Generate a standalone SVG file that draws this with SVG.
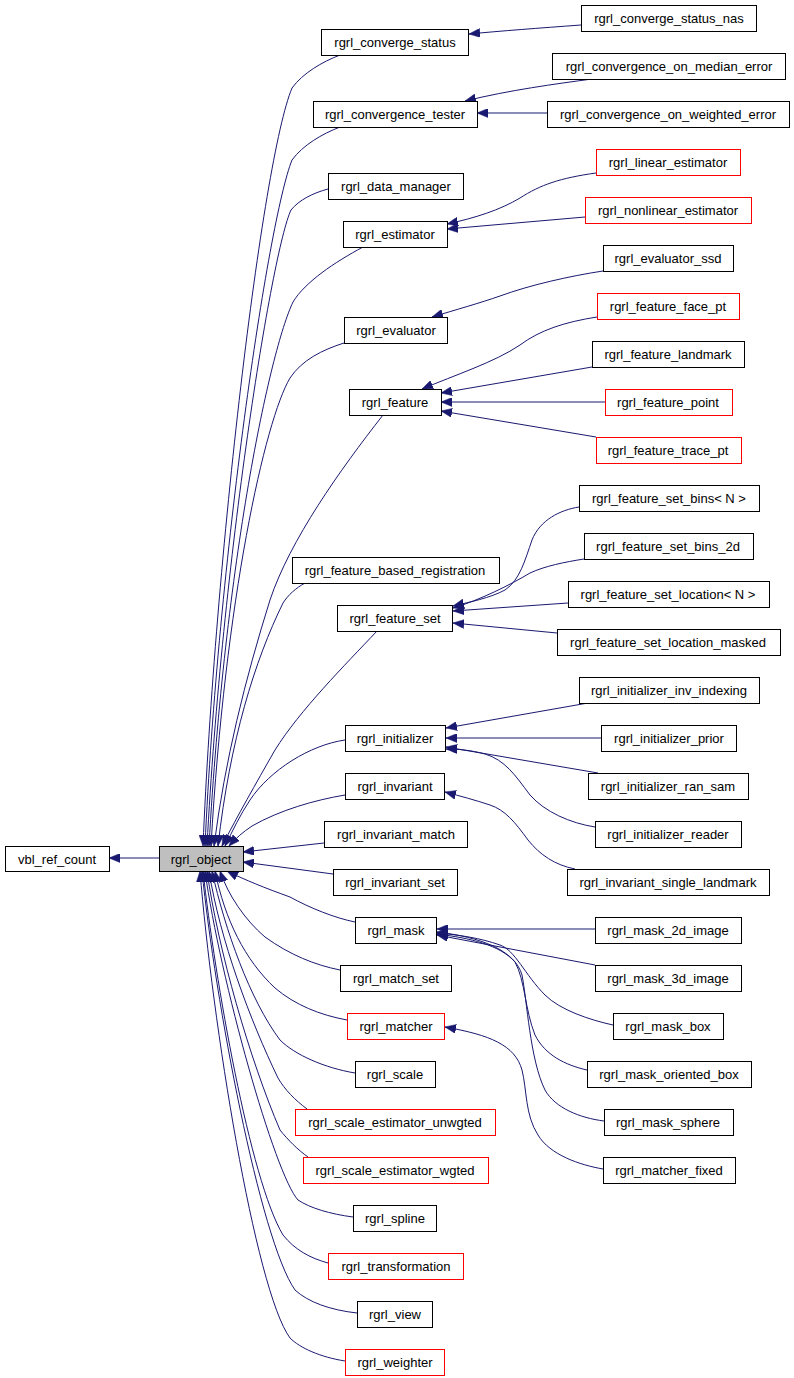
<svg xmlns="http://www.w3.org/2000/svg" width="794" height="1378" viewBox="0 0 794 1378">
<style>
.n rect{fill:#fff;stroke:#000;stroke-width:1}
.r rect{stroke:#f00}
.g rect{fill:#bfbfbf}
text{font-family:"Liberation Sans",Arial,Helvetica,sans-serif;font-size:13px;text-anchor:middle;fill:#000}
.e path{fill:none;stroke:#191970;stroke-width:1;marker-end:url(#a)}
</style>
<defs>
<marker id="a" markerUnits="userSpaceOnUse" viewBox="0 0 11 9" markerWidth="11" markerHeight="9" refX="11" refY="4.5" orient="auto">
<path d="M0,0 L11,4.5 L0,9 z" fill="#191970" stroke="#191970" stroke-width="0.5"/>
</marker>
</defs>
<rect width="794" height="1378" fill="#fff"/>
<g class="e" id="edges">
<path d="M159,858 L109,858"/>
<path d="M340,55 C322,62 303,73 292,88 C262,160 215,560 203,846"/>
<path d="M340,127 C322,134 303,145 292,160 C268,220 218,560 205,846"/>
<path d="M328,189 C313,193 299,200 291,210 C272,250 222,560 207,846"/>
<path d="M363,247 C335,262 305,282 293,302 C270,350 225,560 209,846"/>
<path d="M344,343 C322,350 302,360 290,378 C265,420 225,600 211,846"/>
<path d="M383,415 C340,470 290,540 270,600 C245,680 225,760 214,846"/>
<path d="M305,583 C296,588 288,595 283,603 C255,660 230,740 218,846"/>
<path d="M377,631 C345,665 300,710 275,750 C255,785 238,815 222,846"/>
<path d="M345,740 C310,745 270,770 250,800 C240,815 233,830 225,846"/>
<path d="M345,795 C315,800 280,810 252,826 C243,832 236,838 229,846"/>
<path d="M324,843 L243,852"/>
<path d="M333,874 L243,862"/>
<path d="M355,922 C335,918 310,908 290,897 C265,888 245,880 227,871"/>
<path d="M340,970 C315,965 290,955 265,937 C245,920 228,895 220,871"/>
<path d="M347,1020 C320,1015 295,1005 275,988 C245,960 225,920 215,871"/>
<path d="M355,1073 C325,1068 295,1055 280,1040 C250,1000 225,930 212,871"/>
<path d="M307,1109 C295,1100 285,1090 278,1078 C250,1020 220,940 209,871"/>
<path d="M308,1157 C298,1150 288,1140 280,1130 C250,1060 218,950 207,871"/>
<path d="M353,1217 C330,1214 310,1208 298,1200 C275,1175 220,980 205,871"/>
<path d="M328,1263 C310,1258 295,1250 283,1235 C250,1180 215,980 203,871"/>
<path d="M357,1313 C330,1310 308,1302 295,1290 C260,1240 215,1000 202,871"/>
<path d="M345,1361 C320,1357 300,1348 290,1338 C255,1290 212,1020 200,871"/>
<path d="M581,25 C540,28 500,31 469,34"/>
<path d="M592,79 C555,84 510,90 465,101"/>
<path d="M547,113 L477,113"/>
<path d="M596,173 C560,178 540,185 520,198 C500,210 475,218 447,224"/>
<path d="M585,217 L447,229"/>
<path d="M603,271 C570,276 530,285 500,296 C480,303 455,310 432,317"/>
<path d="M597,317 C565,322 540,330 520,345 C495,362 455,375 422,389"/>
<path d="M592,367 L441,393"/>
<path d="M605,402 L441,402"/>
<path d="M596,437 L441,411"/>
<path d="M579,507 C560,510 540,520 532,540 C525,560 520,580 505,590 C490,598 470,602 453,606"/>
<path d="M584,559 C565,562 545,566 530,573 C510,585 480,600 453,608"/>
<path d="M568,603 L453,611"/>
<path d="M557,633 L453,623"/>
<path d="M588,703 L446,728"/>
<path d="M601,738 L446,738"/>
<path d="M598,773 L446,747"/>
<path d="M595,827 C570,823 545,812 530,795 C515,775 505,760 485,754 C470,750 458,749 446,749"/>
<path d="M575,869 C555,865 540,855 528,840 C515,822 505,810 490,805 C475,800 460,796 445,792"/>
<path d="M595,929 L437,929"/>
<path d="M595,965 L437,935"/>
<path d="M613,1025 C590,1020 560,1010 545,995 C525,975 515,950 500,945 C480,938 460,935 437,933"/>
<path d="M587,1070 C565,1065 545,1055 535,1035 C525,1010 525,980 515,962 C500,945 470,938 437,934"/>
<path d="M604,1121 C580,1118 555,1108 545,1090 C530,1060 527,1000 522,975 C515,950 480,937 437,932"/>
<path d="M603,1169 C580,1165 550,1155 538,1135 C525,1115 527,1090 522,1070 C515,1045 490,1035 445,1027"/>
</g>
<g class="n" id="vbl_ref_count"><rect x="5.5" y="846.5" width="104" height="25"/><text x="57" y="864">vbl_ref_count</text></g>
<g class="n g" id="rgrl_object"><rect x="159.5" y="846.5" width="84" height="25"/><text x="201" y="864">rgrl_object</text></g>
<g class="n" id="rgrl_converge_status"><rect x="321.5" y="29.5" width="147" height="26"/><text x="395" y="47">rgrl_converge_status</text></g>
<g class="n" id="rgrl_converge_status_nas"><rect x="581.5" y="5.5" width="175" height="26"/><text x="669" y="23">rgrl_converge_status_nas</text></g>
<g class="n" id="rgrl_convergence_on_median_error"><rect x="552.5" y="53.5" width="233" height="26"/><text x="669" y="71">rgrl_convergence_on_median_error</text></g>
<g class="n" id="rgrl_convergence_tester"><rect x="313.5" y="101.5" width="164" height="26"/><text x="395" y="119">rgrl_convergence_tester</text></g>
<g class="n" id="rgrl_convergence_on_weighted_error"><rect x="547.5" y="101.5" width="242" height="26"/><text x="668" y="119">rgrl_convergence_on_weighted_error</text></g>
<g class="n" id="rgrl_data_manager"><rect x="328.5" y="173.5" width="135" height="26"/><text x="396" y="191">rgrl_data_manager</text></g>
<g class="n r" id="rgrl_linear_estimator"><rect x="596.5" y="149.5" width="144" height="26"/><text x="668" y="167">rgrl_linear_estimator</text></g>
<g class="n r" id="rgrl_nonlinear_estimator"><rect x="585.5" y="197.5" width="166" height="26"/><text x="668" y="215">rgrl_nonlinear_estimator</text></g>
<g class="n" id="rgrl_estimator"><rect x="343.5" y="221.5" width="104" height="26"/><text x="395" y="239">rgrl_estimator</text></g>
<g class="n" id="rgrl_evaluator_ssd"><rect x="603.5" y="245.5" width="130" height="26"/><text x="668" y="263">rgrl_evaluator_ssd</text></g>
<g class="n" id="rgrl_evaluator"><rect x="344.5" y="317.5" width="103" height="26"/><text x="396" y="335">rgrl_evaluator</text></g>
<g class="n r" id="rgrl_feature_face_pt"><rect x="597.5" y="293.5" width="142" height="26"/><text x="668" y="311">rgrl_feature_face_pt</text></g>
<g class="n" id="rgrl_feature_landmark"><rect x="592.5" y="341.5" width="152" height="26"/><text x="668" y="359">rgrl_feature_landmark</text></g>
<g class="n" id="rgrl_feature"><rect x="349.5" y="389.5" width="92" height="26"/><text x="395" y="407">rgrl_feature</text></g>
<g class="n r" id="rgrl_feature_point"><rect x="605.5" y="389.5" width="127" height="26"/><text x="668" y="407">rgrl_feature_point</text></g>
<g class="n r" id="rgrl_feature_trace_pt"><rect x="596.5" y="437.5" width="145" height="26"/><text x="668" y="455">rgrl_feature_trace_pt</text></g>
<g class="n" id="rgrl_feature_set_bins_N"><rect x="579.5" y="485.5" width="180" height="26"/><text x="669" y="503">rgrl_feature_set_bins&lt; N &gt;</text></g>
<g class="n" id="rgrl_feature_set_bins_2d"><rect x="584.5" y="533.5" width="169" height="26"/><text x="668" y="551">rgrl_feature_set_bins_2d</text></g>
<g class="n" id="rgrl_feature_based_registration"><rect x="292.5" y="557.5" width="207" height="26"/><text x="395" y="575">rgrl_feature_based_registration</text></g>
<g class="n" id="rgrl_feature_set_location_N"><rect x="568.5" y="581.5" width="201" height="26"/><text x="668" y="599">rgrl_feature_set_location&lt; N &gt;</text></g>
<g class="n" id="rgrl_feature_set"><rect x="337.5" y="605.5" width="115" height="26"/><text x="395" y="623">rgrl_feature_set</text></g>
<g class="n" id="rgrl_feature_set_location_masked"><rect x="557.5" y="629.5" width="223" height="26"/><text x="668" y="647">rgrl_feature_set_location_masked</text></g>
<g class="n" id="rgrl_initializer_inv_indexing"><rect x="579.5" y="677.5" width="180" height="26"/><text x="669" y="695">rgrl_initializer_inv_indexing</text></g>
<g class="n" id="rgrl_initializer"><rect x="345.5" y="725.5" width="100" height="26"/><text x="395" y="743">rgrl_initializer</text></g>
<g class="n" id="rgrl_initializer_prior"><rect x="601.5" y="725.5" width="135" height="26"/><text x="669" y="743">rgrl_initializer_prior</text></g>
<g class="n" id="rgrl_invariant"><rect x="345.5" y="773.5" width="99" height="26"/><text x="395" y="791">rgrl_invariant</text></g>
<g class="n" id="rgrl_initializer_ran_sam"><rect x="588.5" y="773.5" width="160" height="26"/><text x="668" y="791">rgrl_initializer_ran_sam</text></g>
<g class="n" id="rgrl_invariant_match"><rect x="324.5" y="821.5" width="143" height="26"/><text x="396" y="839">rgrl_invariant_match</text></g>
<g class="n" id="rgrl_initializer_reader"><rect x="595.5" y="821.5" width="146" height="26"/><text x="668" y="839">rgrl_initializer_reader</text></g>
<g class="n" id="rgrl_invariant_set"><rect x="333.5" y="869.5" width="124" height="26"/><text x="395" y="887">rgrl_invariant_set</text></g>
<g class="n" id="rgrl_invariant_single_landmark"><rect x="567.5" y="869.5" width="202" height="26"/><text x="668" y="887">rgrl_invariant_single_landmark</text></g>
<g class="n" id="rgrl_mask"><rect x="355.5" y="917.5" width="81" height="26"/><text x="396" y="935">rgrl_mask</text></g>
<g class="n" id="rgrl_mask_2d_image"><rect x="595.5" y="917.5" width="146" height="26"/><text x="668" y="935">rgrl_mask_2d_image</text></g>
<g class="n" id="rgrl_match_set"><rect x="340.5" y="965.5" width="111" height="26"/><text x="396" y="983">rgrl_match_set</text></g>
<g class="n" id="rgrl_mask_3d_image"><rect x="595.5" y="965.5" width="146" height="26"/><text x="668" y="983">rgrl_mask_3d_image</text></g>
<g class="n r" id="rgrl_matcher"><rect x="347.5" y="1013.5" width="97" height="26"/><text x="396" y="1031">rgrl_matcher</text></g>
<g class="n" id="rgrl_mask_box"><rect x="613.5" y="1013.5" width="110" height="26"/><text x="668" y="1031">rgrl_mask_box</text></g>
<g class="n" id="rgrl_scale"><rect x="355.5" y="1061.5" width="80" height="26"/><text x="395" y="1079">rgrl_scale</text></g>
<g class="n" id="rgrl_mask_oriented_box"><rect x="587.5" y="1061.5" width="164" height="26"/><text x="669" y="1079">rgrl_mask_oriented_box</text></g>
<g class="n r" id="rgrl_scale_estimator_unwgted"><rect x="295.5" y="1109.5" width="200" height="26"/><text x="395" y="1127">rgrl_scale_estimator_unwgted</text></g>
<g class="n" id="rgrl_mask_sphere"><rect x="604.5" y="1109.5" width="129" height="26"/><text x="668" y="1127">rgrl_mask_sphere</text></g>
<g class="n r" id="rgrl_scale_estimator_wgted"><rect x="303.5" y="1157.5" width="185" height="26"/><text x="395" y="1175">rgrl_scale_estimator_wgted</text></g>
<g class="n" id="rgrl_matcher_fixed"><rect x="603.5" y="1157.5" width="132" height="26"/><text x="669" y="1175">rgrl_matcher_fixed</text></g>
<g class="n" id="rgrl_spline"><rect x="353.5" y="1205.5" width="83" height="26"/><text x="395" y="1223">rgrl_spline</text></g>
<g class="n r" id="rgrl_transformation"><rect x="328.5" y="1253.5" width="135" height="26"/><text x="396" y="1271">rgrl_transformation</text></g>
<g class="n" id="rgrl_view"><rect x="357.5" y="1301.5" width="75" height="26"/><text x="395" y="1319">rgrl_view</text></g>
<g class="n r" id="rgrl_weighter"><rect x="345.5" y="1349.5" width="99" height="26"/><text x="395" y="1367">rgrl_weighter</text></g>
</svg>
